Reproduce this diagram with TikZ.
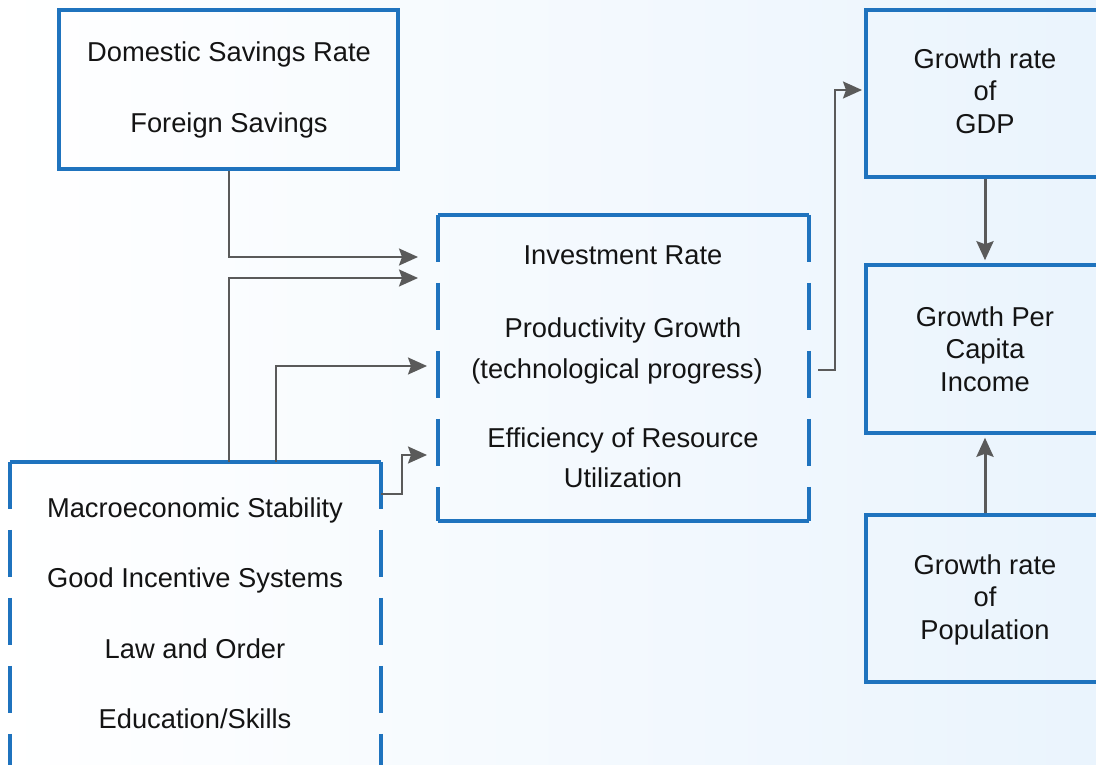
\documentclass[tikz,border=0pt]{standalone}
\usepackage{fontspec}
\setmainfont{Liberation Sans}
\usetikzlibrary{arrows.meta}
\definecolor{boxblue}{HTML}{1F73BE}
\definecolor{conngray}{HTML}{5A5A5A}
\definecolor{bgblue}{HTML}{EAF4FD}
\begin{document}
\begin{tikzpicture}[x=1pt,y=-1pt,
  frame/.style={draw=boxblue, line width=3.5pt, rectangle, inner sep=0pt},
  hiddenbox/.style={rectangle, inner sep=0pt, draw=none},
  sideline/.style={draw=boxblue, line width=3.5pt, dash pattern=on 47pt off 21pt},
  edgeline/.style={draw=boxblue, line width=3.5pt, line cap=square},
  conn/.style={draw=conngray, line width=2pt, -{Stealth[length=19pt,width=17pt,inset=3pt]}},
  thickconn/.style={conn, line width=3pt},
  lbl/.style={anchor=base, inner sep=0pt, font=\fontsize{27.3}{32}\selectfont, text=black!92}]
\useasboundingbox (0,0) rectangle (1096,765);
\clip (0,0) rectangle (1096,765);
\shade[left color=white, right color=bgblue] (0,0) rectangle (1096,765);

% boxes
\node[frame, minimum width=339pt, minimum height=159pt] (savings) at (228.5,89.5) {};
\node[hiddenbox, minimum width=371pt, minimum height=306pt] (mid) at (623.5,368) {};
\node[hiddenbox, minimum width=371pt, minimum height=340pt] (macro) at (195.5,632) {};
\node[frame, minimum width=238pt, minimum height=167pt] (gdp) at (985,93.5) {};
\node[frame, minimum width=238pt, minimum height=168pt] (pc) at (985,349) {};
\node[frame, minimum width=238pt, minimum height=167pt] (pop) at (985,598.5) {};

% dashed frames
\draw[edgeline] (mid.north west) -- (mid.north east);
\draw[edgeline] (mid.south west) -- (mid.south east);
\draw[sideline] (mid.north west) -- (mid.south west);
\draw[sideline] (mid.north east) -- (mid.south east);
\draw[edgeline] (macro.north west) -- (macro.north east);
\draw[sideline] (macro.north west) -- (macro.south west);
\draw[sideline] (macro.north east) -- (macro.south east);

% texts
\node[lbl] (t-dsr) at (229,62) {Domestic Savings Rate};
\node[lbl] (t-fs) at (229,133) {Foreign Savings};
\node[lbl] (t-ir) at (623,265) {Investment Rate};
\node[lbl] (t-pg) at (623,337) {Productivity Growth};
\node[lbl] (t-tp) at (617,378) {(technological progress)};
\node[lbl] (t-er) at (623,447) {Efficiency of Resource};
\node[lbl] (t-ut) at (623,487) {Utilization};
\node[lbl] (t-ms) at (195,517) {Macroeconomic Stability};
\node[lbl] (t-gi) at (195,587) {Good Incentive Systems};
\node[lbl] (t-lo) at (195,658) {Law and Order};
\node[lbl] (t-es) at (195,728) {Education/Skills};
\node[lbl] (t-g1) at (985,69) {Growth rate};
\node[lbl] (t-g2) at (985,101) {of};
\node[lbl] (t-g3) at (985,134) {GDP};
\node[lbl] (t-p1) at (985,326) {Growth Per};
\node[lbl] (t-p2) at (985,358) {Capita};
\node[lbl] (t-p3) at (985,391) {Income};
\node[lbl] (t-o1) at (985,574) {Growth rate};
\node[lbl] (t-o2) at (985,606) {of};
\node[lbl] (t-o3) at (985,639) {Population};

% connector ends
\coordinate (e1) at (418,257);
\coordinate (e2) at (418,278);
\coordinate (e3) at (427,366);
\coordinate (e4) at (427,455);
\coordinate (e5) at (862,90);
\coordinate (s4) at (381,494);
\coordinate (s5) at (818,370);

% connectors
\draw[conn] (savings.south) |- (e1);
\draw[conn] ([xshift=219pt]macro.north west) |- (e2);
\draw[conn] ([xshift=266pt]macro.north west) |- (e3);
\draw[conn] (s4) -- (402,494) |- (e4);
\draw[conn] (s5) -- (835,370) |- (e5);
\draw[thickconn] (gdp.south) -- ([yshift=3pt]pc.north);
\draw[thickconn] (pop.north) -- ([yshift=-3pt]pc.south);
\end{tikzpicture}
\end{document}
